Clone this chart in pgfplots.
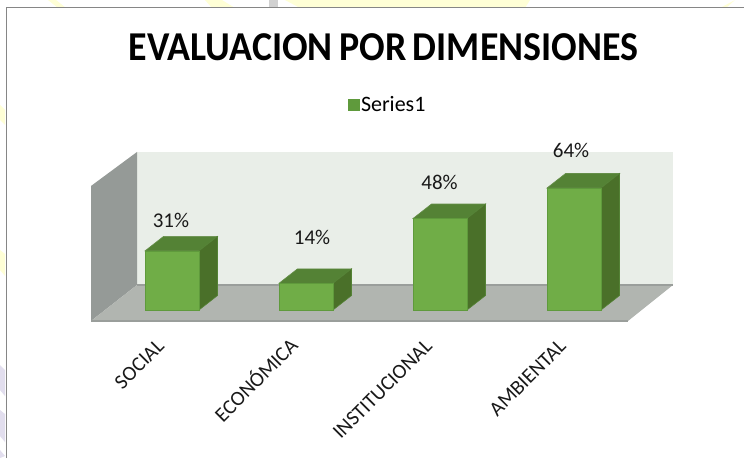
\documentclass[border=0pt]{standalone}
\usepackage{pgfplots}
\pgfplotsset{compat=1.18}
\usepackage{fontspec}
\setmainfont{Carlito}
\definecolor{backwall}{HTML}{E9EEE8}
\definecolor{leftwall}{HTML}{959A97}
\definecolor{floorc}{HTML}{B1B5B0}
\definecolor{floorl}{HTML}{9A9E9B}
\definecolor{front}{HTML}{70AD47}
\definecolor{frontl}{HTML}{5F9A3C}
\definecolor{topc}{HTML}{548235}
\definecolor{sidec}{HTML}{4A7029}
\definecolor{frame}{HTML}{868686}
\definecolor{pyel}{HTML}{FFFFD6}
\definecolor{ppur}{HTML}{E2DEEE}
\begin{document}
\begin{tikzpicture}[x=1pt,y=1pt]
\useasboundingbox (0,0) rectangle (744,458);
\fill[white] (0,0) rectangle (744,458);
% faint slide background showing around the chart frame
\fill[pyel] (48,458) -- (56,458) -- (66,450) -- (58,450) -- cycle;
\fill[pyel] (205,458) -- (222,458) -- (235,450) -- (212,450) -- cycle;
\fill[pyel] (285,458) -- (530,458) -- (525,450) -- (300,450) -- cycle;
\fill[pyel] (720,450) -- (735,458) -- (726,450) -- cycle;
\fill[black!18] (269,450) rectangle (278,458);
\fill[pyel] (0,353) -- (5,348) -- (5,333) -- (0,338) -- cycle;
\fill[pyel] (0,208) -- (5,204) -- (5,182) -- (0,188) -- cycle;
\fill[ppur] (0,93) -- (5,88) -- (5,62) -- (0,68) -- cycle;
\fill[ppur] (0,48) -- (5,44) -- (5,16) -- (0,22) -- cycle;
\fill[ppur] (0,8) -- (5,2) -- (0,0) -- cycle;
\draw[frame,line width=1pt] (6,0) -- (6,450) -- (744,450);
\begin{axis}[
  at={(0,0)},anchor=south west,
  scale only axis,width=744pt,height=458pt,
  xmin=0,xmax=744,ymin=-77.65,ymax=162.64,
  axis line style={draw=none},
  major tick length=0pt,
  ytick=\empty,
  xtick={172,306,440,574},
  xticklabels={SOCIAL,{\raisebox{4.2pt}[\height][\depth]{ECONÓMICA}\hspace{12pt}},INSTITUCIONAL,AMBIENTAL},
  x tick label style={rotate=45,anchor=north east,xshift=73.5pt,yshift=96.5pt,
    font=\fontsize{20.7}{20.7}\selectfont,inner sep=0pt,text=black!90},
  clip=false,
  legend style={at={(348pt,353pt)},anchor=west,draw=none,fill=none,
    font=\fontsize{22}{22}\selectfont,inner sep=0pt,
    legend cell align=left,
    /tikz/every even column/.append style={column sep=0pt}},
  legend image code/.code={
    \fill[front] (0pt,-5.5pt) rectangle (11pt,5.5pt);
    \draw[frontl,line width=0.6pt] (0pt,-5.5pt) rectangle (11pt,5.5pt);
  },
]
% walls and floor
\addplot[forget plot,fill=backwall,draw=none] coordinates {(137,82.9)(673,82.9)(673,13.12)(137,13.12)} --cycle;
\addplot[forget plot,fill=leftwall,draw=none] coordinates {(91,65.06)(137,82.9)(137,13.12)(91,-5.77)} --cycle;
\addplot[forget plot,fill=floorc,draw=none] coordinates {(91,-5.77)(628,-5.77)(673,13.12)(137,13.12)} --cycle;
\addplot[forget plot,draw=floorl,line width=1.3pt] coordinates {(137,13.12)(673,13.12)};
\addplot[forget plot,draw=floorl,line width=2pt] coordinates {(91,-5.77)(628,-5.77)};
% bar tops and sides
\addplot[forget plot,fill=topc,draw=topc!90!white,line width=0.6pt] coordinates {(145,31)(199,31)(217.5,38.6)(163.5,38.6)} --cycle;
\addplot[forget plot,fill=sidec,draw=topc,line width=0.6pt] coordinates {(199,31)(217.5,38.6)(217.5,7.6)(199,0)} --cycle;
\addplot[forget plot,fill=topc,draw=topc!90!white,line width=0.6pt] coordinates {(279,14)(333,14)(351.5,21.6)(297.5,21.6)} --cycle;
\addplot[forget plot,fill=sidec,draw=topc,line width=0.6pt] coordinates {(333,14)(351.5,21.6)(351.5,7.6)(333,0)} --cycle;
\addplot[forget plot,fill=topc,draw=topc!90!white,line width=0.6pt] coordinates {(413,48)(467,48)(485.5,55.6)(431.5,55.6)} --cycle;
\addplot[forget plot,fill=sidec,draw=topc,line width=0.6pt] coordinates {(467,48)(485.5,55.6)(485.5,7.6)(467,0)} --cycle;
\addplot[forget plot,fill=topc,draw=topc!90!white,line width=0.6pt] coordinates {(547,64)(601,64)(619.5,71.6)(565.5,71.6)} --cycle;
\addplot[forget plot,fill=sidec,draw=topc,line width=0.6pt] coordinates {(601,64)(619.5,71.6)(619.5,7.6)(601,0)} --cycle;
% bar fronts: the values
\addplot[ybar,bar width=54pt,bar shift=0pt,fill=front,draw=frontl,line width=0.8pt] coordinates {(172,31)(306,14)(440,48)(574,64)};
\addlegendentry{\hspace{-1pt}Series1}
% data labels
\node[font=\fontsize{21}{21}\selectfont,text=black!90] at (axis cs:171,47.2) {31\%};
\node[font=\fontsize{21}{21}\selectfont,text=black!90] at (axis cs:312,38.3) {14\%};
\node[font=\fontsize{21}{21}\selectfont,text=black!90] at (axis cs:439.5,67) {48\%};
\node[font=\fontsize{21}{21}\selectfont,text=black!90] at (axis cs:571,83.6) {64\%};
\end{axis}
\node[font=\fontsize{41}{41}\selectfont\bfseries,inner sep=0pt] at (383.5,411) {\scalebox{0.925}[1]{\spaceskip=0.17em EVALUACION POR DIMENSIONES}};
\end{tikzpicture}
\end{document}
